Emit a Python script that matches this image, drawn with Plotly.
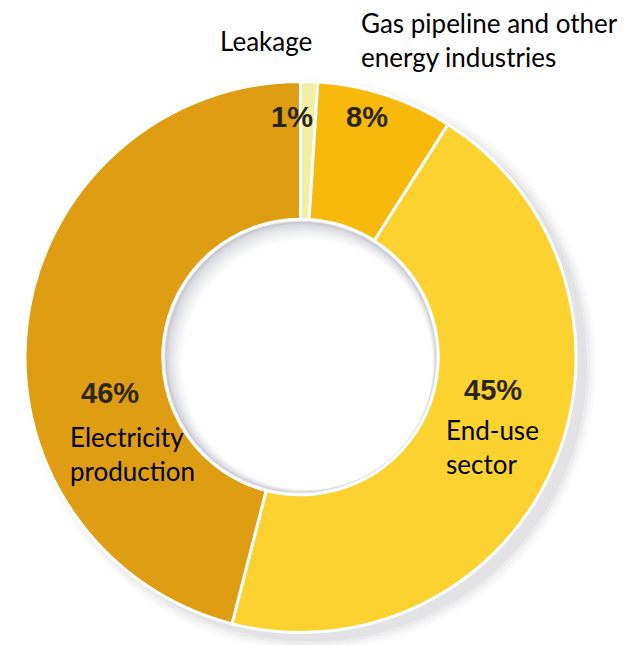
import plotly.graph_objects as go

# Shares of methane emissions along the natural gas chain (%)
categories = ["Leakage", "Gas pipeline and other energy industries", "End-use sector", "Electricity production"]
shares = [1, 8, 45, 46]
slice_colors = ["#F3EEA3", "#F6B90C", "#FBD22F", "#DE9D13"]

# Category captions as shown around the ring
captions = ["Leakage", "Gas pipeline and other<br>energy industries", "End-use<br>sector", "Electricity<br>production"]

W, H = 628, 645
CX, CY, R = 300.5, 357.0, 275.5   # ring centre and outer radius, px
HOLE = 0.5

def px(x):
    return x / W

def py(y):
    return 1 - y / H

fig = go.Figure(
    go.Pie(
        labels=categories,
        values=shares,
        sort=False,
        direction="clockwise",
        rotation=0,
        hole=HOLE,
        marker=dict(colors=slice_colors, line=dict(color="white", width=3)),
        textinfo="none",
        hoverinfo="label+percent",
        showlegend=False,
        domain=dict(x=[px(CX - R), px(CX + R)], y=[py(CY + R), py(CY - R)]),
    )
)

shapes = []

# soft drop shadow toward the lower right of the ring
for grow, alpha in [(10, 0.035), (7, 0.045), (4, 0.055), (1, 0.065)]:
    cx, cy, r = CX + 10, CY + 8, R + grow
    shapes.append(dict(
        type="circle", xref="paper", yref="paper", layer="below",
        x0=px(cx - r), x1=px(cx + r), y0=py(cy + r), y1=py(cy - r),
        fillcolor=f"rgba(110,110,120,{alpha})", line=dict(width=0),
    ))

# inner shadow inside the hole, heaviest at the upper left
RH = R * HOLE - 2.5
steps = 12
spread = 10.0
for k in range(steps):
    t = k / (steps - 1)
    d = spread * t
    r = RH - d
    cx, cy = CX + d * 0.70, CY + d * 0.71
    g0 = (200, 201, 208)
    col = tuple(int(round(c + (255 - c) * t ** 0.6)) for c in g0)
    shapes.append(dict(
        type="circle", xref="paper", yref="paper", layer="above",
        x0=px(cx - r), x1=px(cx + r), y0=py(cy + r), y1=py(cy - r),
        fillcolor=f"rgb{col}", line=dict(width=0),
    ))

label_font = dict(family="Lato, Carlito, Calibri, sans-serif", size=26, color="black")
pct_font = dict(family="Liberation Sans, Arial, sans-serif", size=29, color="#2B2612")

annotations = []

# percentage labels
pct_pos = [(292, 117), (367, 117), (493, 390), (110, 393)]
for v, (x, y) in zip(shares, pct_pos):
    annotations.append(dict(
        text=f"<b>{v}%</b>", x=px(x), y=py(y), xref="paper", yref="paper",
        xanchor="center", yanchor="middle", showarrow=False, font=pct_font,
    ))

# category captions
cap_pos = [(266, 41, "center"), (359, 40, "left"), (444, 447, "left"), (68, 454, "left")]
for text, (x, y, anchor) in zip(captions, cap_pos):
    annotations.append(dict(
        text=text, x=px(x), y=py(y), xref="paper", yref="paper",
        xanchor=anchor, yanchor="middle", align="left", showarrow=False, font=label_font,
    ))

fig.update_layout(
    width=W, height=H,
    margin=dict(l=0, r=0, t=0, b=0),
    paper_bgcolor="white", plot_bgcolor="white",
    shapes=shapes, annotations=annotations,
)

fig.write_html("out.html")
